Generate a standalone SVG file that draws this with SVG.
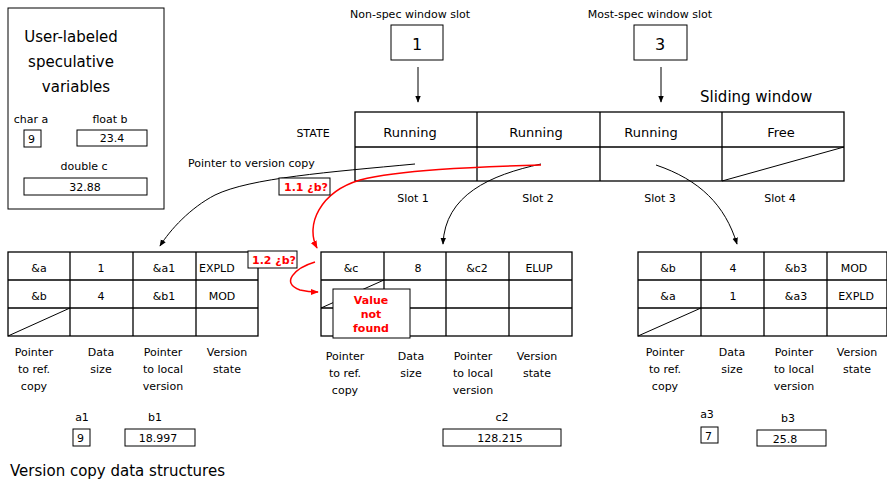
<svg xmlns="http://www.w3.org/2000/svg" width="887" height="484" viewBox="0 0 887 484">
<defs>
<marker id="ab" viewBox="0 0 10 10" refX="9" refY="5" markerWidth="7" markerHeight="9" orient="auto" markerUnits="userSpaceOnUse"><path d="M0,1 L10,5 L0,9 Z" fill="#000"/></marker>
<marker id="ar" viewBox="0 0 10 10" refX="9" refY="5" markerWidth="8" markerHeight="10" orient="auto" markerUnits="userSpaceOnUse"><path d="M0,1 L10,5 L0,9 Z" fill="#f00"/></marker>
</defs>
<style>
text{font-family:"DejaVu Sans",sans-serif;font-size:11px;fill:#000}
.c{text-anchor:middle}
.b{fill:#fff;stroke:#000;stroke-width:1}
.l{stroke:#000;stroke-width:1;fill:none}
.t{stroke:#000;stroke-width:1.3;fill:none}
.m{font-size:13px}
.big{font-size:15px}
.r{fill:#f00;font-weight:bold;font-size:11px}
.rb{fill:#fff;stroke:#000;stroke-width:1}
</style>
<rect width="887" height="484" fill="#fff"/>

<g id="user-vars">
<rect class="b" x="8" y="8" width="156" height="201"/>
<text class="c big" x="71" y="42">User-labeled</text>
<text class="c big" x="71" y="67">speculative</text>
<text class="c big" x="76" y="92">variables</text>
<text class="c" x="31" y="123">char a</text>
<rect class="b" x="24" y="130" width="17" height="17"/>
<text x="28" y="143">9</text>
<text class="c" x="110" y="123">float b</text>
<rect class="b" x="77" y="130" width="70" height="16"/>
<text class="c" x="112" y="142">23.4</text>
<text class="c" x="84" y="170">double c</text>
<rect class="b" x="24" y="178" width="123" height="17"/>
<text class="c" x="85" y="191">32.88</text>
</g>

<g id="nonspec">
<text class="c" x="410" y="18">Non-spec window slot</text>
<rect class="b" x="391" y="25" width="52" height="35"/>
<text class="c" x="417" y="50" style="font-size:16px">1</text>
</g>
<g id="mostspec">
<text class="c" x="650" y="18">Most-spec window slot</text>
<rect class="b" x="634" y="25" width="53" height="35"/>
<text class="c" x="660" y="50" style="font-size:16px">3</text>
</g>

<g id="sliding-window">
<text class="big" x="700" y="102">Sliding window</text>
<text class="c" x="313" y="137">STATE</text>
<rect class="t" x="355" y="112" width="489" height="69"/>
<line class="t" x1="355" y1="147" x2="844" y2="147"/>
<line class="t" x1="477" y1="112" x2="477" y2="181"/>
<line class="t" x1="600" y1="112" x2="600" y2="181"/>
<line class="t" x1="722" y1="112" x2="722" y2="181"/>
<line class="l" x1="722" y1="181" x2="844" y2="147"/>
<text class="c m" x="410" y="137">Running</text>
<text class="c m" x="536" y="137">Running</text>
<text class="c m" x="651" y="137">Running</text>
<text class="c m" x="781" y="137">Free</text>
<text class="c" x="413" y="202">Slot 1</text>
<text class="c" x="538" y="202">Slot 2</text>
<text class="c" x="660" y="202">Slot 3</text>
<text class="c" x="780" y="202">Slot 4</text>
</g>

<g id="table1">
<rect class="t" x="8" y="252" width="250" height="84"/>
<line class="t" x1="8" y1="280" x2="258" y2="280"/>
<line class="t" x1="8" y1="308" x2="258" y2="308"/>
<line class="t" x1="70" y1="252" x2="70" y2="336"/>
<line class="t" x1="133" y1="252" x2="133" y2="336"/>
<line class="t" x1="196" y1="252" x2="196" y2="336"/>
<line class="l" x1="8" y1="336" x2="70" y2="308"/>
<text class="c" x="39" y="272">&amp;a</text>
<text class="c" x="101" y="272">1</text>
<text class="c" x="164" y="272">&amp;a1</text>
<text x="199" y="272">EXPLD</text>
<text class="c" x="39" y="300">&amp;b</text>
<text class="c" x="101" y="300">4</text>
<text class="c" x="164" y="300">&amp;b1</text>
<text class="c" x="222" y="300">MOD</text>
<text class="c" x="34" y="356">Pointer</text>
<text class="c" x="34" y="373">to ref.</text>
<text class="c" x="34" y="390">copy</text>
<text class="c" x="101" y="356">Data</text>
<text class="c" x="101" y="373">size</text>
<text class="c" x="163" y="356">Pointer</text>
<text class="c" x="163" y="373">to local</text>
<text class="c" x="163" y="390">version</text>
<text class="c" x="227" y="356">Version</text>
<text class="c" x="227" y="373">state</text>
<text class="c" x="82" y="421">a1</text>
<rect class="b" x="73" y="429" width="17" height="17"/>
<text x="77" y="442">9</text>
<text class="c" x="155" y="421">b1</text>
<rect class="b" x="125" y="429" width="70" height="17"/>
<text class="c" x="158" y="442">18.997</text>
</g>

<g id="table2">
<rect class="t" x="321" y="252" width="251" height="84"/>
<line class="t" x1="321" y1="280" x2="572" y2="280"/>
<line class="t" x1="321" y1="308" x2="572" y2="308"/>
<line class="t" x1="384" y1="252" x2="384" y2="336"/>
<line class="t" x1="446" y1="252" x2="446" y2="336"/>
<line class="t" x1="509" y1="252" x2="509" y2="336"/>
<line class="l" x1="321" y1="308" x2="384" y2="280"/>
<text class="c" x="351" y="272">&amp;c</text>
<text class="c" x="418" y="272">8</text>
<text class="c" x="477" y="272">&amp;c2</text>
<text class="c" x="539" y="272">ELUP</text>
<text class="c" x="345" y="360">Pointer</text>
<text class="c" x="345" y="377">to ref.</text>
<text class="c" x="345" y="394">copy</text>
<text class="c" x="411" y="360">Data</text>
<text class="c" x="411" y="377">size</text>
<text class="c" x="473" y="360">Pointer</text>
<text class="c" x="473" y="377">to local</text>
<text class="c" x="473" y="394">version</text>
<text class="c" x="537" y="360">Version</text>
<text class="c" x="537" y="377">state</text>
<text class="c" x="502" y="421">c2</text>
<rect class="b" x="443" y="429" width="118" height="17"/>
<text class="c" x="500" y="442">128.215</text>
</g>

<g id="table3">
<rect class="t" x="638" y="252" width="249" height="84"/>
<line class="t" x1="638" y1="280" x2="887" y2="280"/>
<line class="t" x1="638" y1="308" x2="887" y2="308"/>
<line class="t" x1="701" y1="252" x2="701" y2="336"/>
<line class="t" x1="764" y1="252" x2="764" y2="336"/>
<line class="t" x1="827" y1="252" x2="827" y2="336"/>
<line class="l" x1="638" y1="336" x2="701" y2="308"/>
<text class="c" x="668" y="272">&amp;b</text>
<text class="c" x="733" y="272">4</text>
<text class="c" x="796" y="272">&amp;b3</text>
<text class="c" x="854" y="272">MOD</text>
<text class="c" x="668" y="300">&amp;a</text>
<text class="c" x="733" y="300">1</text>
<text class="c" x="796" y="300">&amp;a3</text>
<text class="c" x="856" y="300">EXPLD</text>
<text class="c" x="665" y="356">Pointer</text>
<text class="c" x="665" y="373">to ref.</text>
<text class="c" x="665" y="390">copy</text>
<text class="c" x="732" y="356">Data</text>
<text class="c" x="732" y="373">size</text>
<text class="c" x="794" y="356">Pointer</text>
<text class="c" x="794" y="373">to local</text>
<text class="c" x="794" y="390">version</text>
<text class="c" x="857" y="356">Version</text>
<text class="c" x="857" y="373">state</text>
<text class="c" x="707" y="418">a3</text>
<rect class="b" x="701" y="427" width="17" height="16"/>
<text x="705" y="440">7</text>
<text class="c" x="788" y="422">b3</text>
<rect class="b" x="757" y="430" width="69" height="16"/>
<text class="c" x="785" y="443">25.8</text>
</g>

<g id="connectors">
<line class="l" x1="418" y1="67" x2="418" y2="102" marker-end="url(#ab)"/>
<line class="l" x1="661" y1="67" x2="661" y2="102" marker-end="url(#ab)"/>
<path class="l" d="M415,164 C330,172 250,178 215,195 C190,208 170,230 160,246" marker-end="url(#ab)"/>
<path class="l" d="M541,164 C490,175 445,195 443,244" marker-end="url(#ab)"/>
<path class="l" d="M656,165 C700,180 725,205 737,244" marker-end="url(#ab)"/>
<path d="M541,165 C470,167 400,170 360,180 C320,192 305,225 317,248" fill="none" stroke="#f00" stroke-width="1.5" marker-end="url(#ar)"/>
<path d="M315,262 C295,268 280,283 300,290 C308,292 312,292 318,292" fill="none" stroke="#f00" stroke-width="1.5" marker-end="url(#ar)"/>
</g>

<g id="labels">
<text x="188" y="167">Pointer to version copy</text>
<rect class="rb" x="279" y="178" width="51" height="17"/>
<text class="r" x="284" y="191">1.1 ¿b?</text>
<rect class="rb" x="248" y="251" width="49" height="17"/>
<text class="r" x="252" y="264">1.2 ¿b?</text>
<rect class="rb" x="333" y="289" width="77" height="49"/>
<text class="r c" x="371" y="304">Value</text>
<text class="r c" x="371" y="318">not</text>
<text class="r c" x="371" y="332">found</text>
<text class="big" x="10" y="476">Version copy data structures</text>
</g>
</svg>
